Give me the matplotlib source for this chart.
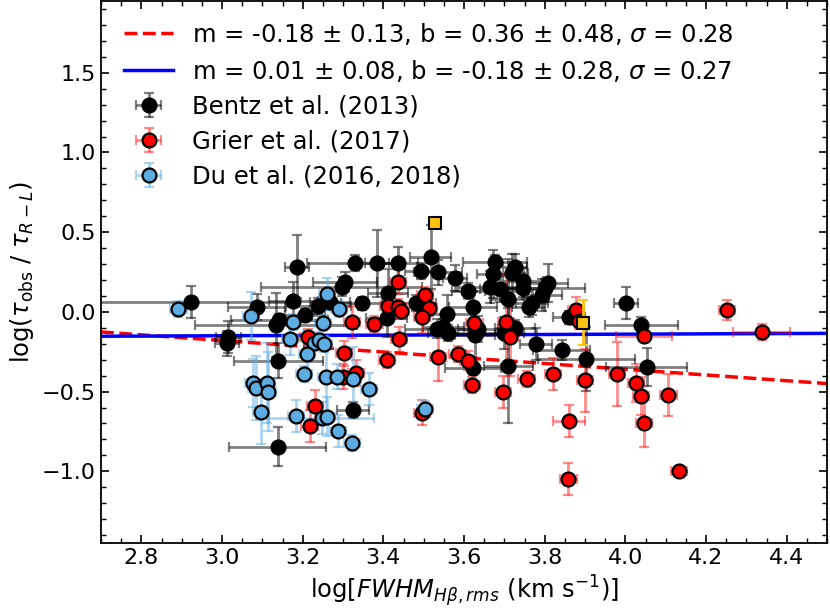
import matplotlib
matplotlib.use("Agg")
import matplotlib.pyplot as plt
import numpy as np
from matplotlib.ticker import MultipleLocator


# =========================================================
# Data
# =========================================================
# Bentz et al. (2013): x, y, xerr, yerr
bentz_x = [2.922, 3.185, 3.330, 3.384, 3.305, 3.297, 3.177, 3.086, 3.239, 3.268,
           3.346, 3.206, 3.142, 3.134, 3.412, 3.408, 3.016, 3.012, 3.140, 3.324,
           3.138, 3.437, 3.517, 3.493, 3.536, 3.578, 3.611, 3.677, 3.673, 3.718,
           3.727, 3.747, 3.747, 3.665, 3.689, 3.708, 3.809, 3.801, 3.793, 3.768,
           3.760, 3.623, 3.481, 3.557, 3.534, 3.549, 3.561, 3.634, 3.627, 3.698,
           3.727, 3.622, 3.710, 3.779, 3.842, 3.903, 3.861, 4.002, 4.040, 4.053]
bentz_y = [0.062, 0.284, 0.305, 0.305, 0.190, 0.158, 0.068, 0.029, 0.037, 0.064,
           0.054, -0.020, -0.051, -0.082, 0.120, -0.040, -0.160, -0.197, -0.308, -0.615,
           -0.845, 0.309, 0.343, 0.259, 0.248, 0.211, 0.131, 0.315, 0.236, 0.242,
           0.280, 0.194, 0.152, 0.158, 0.144, 0.081, 0.179, 0.148, 0.106, 0.058,
           0.029, 0.029, 0.054, -0.013, -0.107, -0.097, -0.134, -0.109, -0.145, -0.130,
           -0.103, -0.354, -0.337, -0.203, -0.239, -0.297, -0.034, 0.054, -0.082, -0.344]
bentz_xerr = [0.25, 0.03, 0.12, 0.03, 0.08, 0.20, 0.06, 0.07, 0.08, 0.05,
              0.05, 0.05, 0.12, 0.20, 0.05, 0.05, 0.03, 0.03, 0.11, 0.04,
              0.12, 0.05, 0.05, 0.04, 0.06, 0.03, 0.04, 0.08, 0.04, 0.04,
              0.03, 0.05, 0.04, 0.08, 0.05, 0.04, 0.05, 0.10, 0.05, 0.04,
              0.04, 0.06, 0.05, 0.06, 0.08, 0.05, 0.05, 0.05, 0.05, 0.05,
              0.05, 0.07, 0.06, 0.04, 0.07, 0.12, 0.04, 0.03, 0.09, 0.10]
bentz_yerr = [0.10, 0.20, 0.05, 0.21, 0.06, 0.06, 0.12, 0.08, 0.05, 0.05,
              0.04, 0.04, 0.04, 0.20, 0.15, 0.12, 0.10, 0.08, 0.11, 0.05,
              0.12, 0.10, 0.20, 0.05, 0.08, 0.08, 0.05, 0.04, 0.15, 0.12,
              0.08, 0.08, 0.06, 0.10, 0.08, 0.25, 0.12, 0.06, 0.10, 0.08,
              0.06, 0.10, 0.05, 0.12, 0.06, 0.05, 0.05, 0.08, 0.20, 0.10,
              0.05, 0.04, 0.36, 0.10, 0.06, 0.20, 0.04, 0.10, 0.05, 0.12]

# Grier et al. (2017)
grier_x = [3.214, 3.437, 3.412, 3.437, 3.443, 3.322, 3.378, 3.439, 3.303, 3.410,
           3.299, 3.332, 3.231, 3.217, 3.503, 3.512, 3.495, 3.536, 3.584, 3.611,
           3.619, 3.626, 3.704, 3.714, 3.696, 3.755, 3.821, 3.877, 3.900, 3.979,
           3.861, 3.859, 3.495, 4.046, 4.027, 4.039, 4.107, 4.046, 4.134, 4.251,
           4.338, 3.885]
grier_y = [-0.155, 0.190, 0.037, 0.029, 0.008, -0.061, -0.076, -0.172, -0.260, -0.302,
           -0.406, -0.385, -0.588, -0.716, 0.106, 0.023, -0.030, -0.281, -0.264, -0.306,
           -0.459, -0.068, -0.061, -0.155, -0.500, -0.421, -0.390, 0.012, -0.430, -0.390,
           -0.683, -1.048, -0.632, -0.149, -0.448, -0.526, -0.521, -0.695, -0.998, 0.012,
           -0.124, -0.060]
grier_xerr = [0.02, 0.02, 0.02, 0.02, 0.02, 0.02, 0.02, 0.02, 0.02, 0.02,
              0.02, 0.02, 0.02, 0.02, 0.02, 0.02, 0.02, 0.02, 0.02, 0.02,
              0.02, 0.02, 0.02, 0.02, 0.02, 0.02, 0.02, 0.02, 0.02, 0.02,
              0.04, 0.02, 0.02, 0.07, 0.02, 0.02, 0.02, 0.02, 0.02, 0.02,
              0.07, 0.02]
grier_yerr = [0.05, 0.08, 0.05, 0.05, 0.05, 0.10, 0.05, 0.08, 0.08, 0.05,
              0.08, 0.08, 0.10, 0.10, 0.05, 0.05, 0.10, 0.15, 0.05, 0.06,
              0.05, 0.10, 0.30, 0.25, 0.10, 0.05, 0.10, 0.08, 0.20, 0.20,
              0.10, 0.10, 0.08, 0.03, 0.12, 0.12, 0.13, 0.15, 0.03, 0.06,
              0.05, 0.05]

# Du et al. (2016, 2018)
du_x = [2.892, 3.072, 3.260, 3.175, 3.251, 3.291, 3.169, 3.227, 3.241, 3.253,
        3.210, 3.203, 3.076, 3.084, 3.111, 3.115, 3.258, 3.284, 3.324, 3.365,
        3.097, 3.183, 3.247, 3.260, 3.288, 3.323, 3.503]
du_y = [0.016, -0.026, 0.112, -0.061, -0.068, 0.016, -0.172, -0.193, -0.176, -0.203,
        -0.264, -0.390, -0.448, -0.479, -0.448, -0.500, -0.410, -0.406, -0.420, -0.486,
        -0.630, -0.651, -0.668, -0.657, -0.745, -0.824, -0.611]
du_xerr = [0.02, 0.02, 0.02, 0.02, 0.02, 0.02, 0.02, 0.02, 0.02, 0.02,
           0.02, 0.02, 0.02, 0.02, 0.02, 0.02, 0.02, 0.02, 0.02, 0.02,
           0.02, 0.02, 0.13, 0.02, 0.02, 0.02, 0.02]
du_yerr = [0.05, 0.15, 0.10, 0.05, 0.05, 0.05, 0.10, 0.05, 0.05, 0.05,
           0.15, 0.05, 0.15, 0.20, 0.25, 0.25, 0.25, 0.08, 0.20, 0.10,
           0.20, 0.10, 0.10, 0.12, 0.10, 0.05, 0.05]

# highlighted objects (yellow squares)
special_x = [3.528, 3.894]
special_y = [0.560, -0.068]
special_yerr = [0.0, 0.14]

# fits: slope, intercept
FIT_RED = (-0.18, 0.36)
FIT_BLUE = (0.01, -0.18)
FIT_RED_LABEL = r"m = -0.18 $\pm$ 0.13, b = 0.36 $\pm$ 0.48, $\sigma$ = 0.28"
FIT_BLUE_LABEL = r"m = 0.01 $\pm$ 0.08, b = -0.18 $\pm$ 0.28, $\sigma$ = 0.27"

XLIM = (2.7, 4.5)
YLIM = (-1.45, 1.95)

DU_COLOR = "#5dade2"
GOLD = "#ffc20e"


def draw_series(ax, x, y, xerr, yerr, face, ecolor, label):
    ax.errorbar(
        x, y, xerr=xerr, yerr=yerr,
        fmt="o", ms=10, mfc=face, mec="black", mew=1.6,
        ecolor=ecolor, elinewidth=2.0, capsize=3.5, capthick=1.6,
        label=label, zorder=3,
    )


def main() -> None:
    tick_fs = 16
    label_fs = 17.5
    plt.rcParams["mathtext.fontset"] = "dejavusans"

    fig = plt.figure(figsize=(8.3, 6.13), dpi=100)
    ax = fig.add_axes([101 / 830, 70 / 613, 726 / 830, 542 / 613])

    xx = np.array(XLIM)
    ax.plot(xx, FIT_RED[0] * xx + FIT_RED[1], "--", color="red", lw=2.5,
            label=FIT_RED_LABEL, zorder=1)
    ax.plot(xx, FIT_BLUE[0] * xx + FIT_BLUE[1], "-", color="blue", lw=2.5,
            label=FIT_BLUE_LABEL, zorder=1)

    draw_series(ax, bentz_x, bentz_y, bentz_xerr, bentz_yerr,
                "black", (0, 0, 0, 0.5), "Bentz et al. (2013)")
    draw_series(ax, grier_x, grier_y, grier_xerr, grier_yerr,
                "red", (1, 0, 0, 0.45), "Grier et al. (2017)")
    draw_series(ax, du_x, du_y, du_xerr, du_yerr,
                DU_COLOR, (0.36, 0.68, 0.89, 0.5), "Du et al. (2016, 2018)")

    ax.errorbar(special_x, special_y, yerr=special_yerr, fmt="s", ms=9,
                mfc=GOLD, mec="black", mew=1.5, ecolor=GOLD, elinewidth=2.0,
                capsize=3.5, capthick=1.6, zorder=4)

    ax.set_xlim(*XLIM)
    ax.set_ylim(*YLIM)
    ax.xaxis.set_major_locator(MultipleLocator(0.2))
    ax.xaxis.set_minor_locator(MultipleLocator(0.05))
    ax.yaxis.set_major_locator(MultipleLocator(0.5))
    ax.yaxis.set_minor_locator(MultipleLocator(0.1))
    ax.set_yticks([-1.0, -0.5, 0.0, 0.5, 1.0, 1.5])
    ax.tick_params(which="both", direction="in", top=True, right=True,
                   labelsize=tick_fs)
    ax.tick_params(which="major", length=6, width=1.2)
    ax.tick_params(which="minor", length=3.5, width=1.0)
    for sp in ax.spines.values():
        sp.set_linewidth(1.3)

    ax.set_xlabel(r"log[$FWHM_{H\beta, rms}$ (km s$^{-1}$)]", fontsize=label_fs)
    ax.set_ylabel(r"log($\tau_{\rm obs}$ / $\tau_{R-L}$)", fontsize=label_fs)

    ax.legend(loc="upper left", bbox_to_anchor=(0.007, 0.997), frameon=False,
              fontsize=label_fs, handlelength=2.0, borderaxespad=0.35,
              labelspacing=0.45)

    fig.savefig("out.png", dpi=100)
    plt.close(fig)


if __name__ == "__main__":
    main()
